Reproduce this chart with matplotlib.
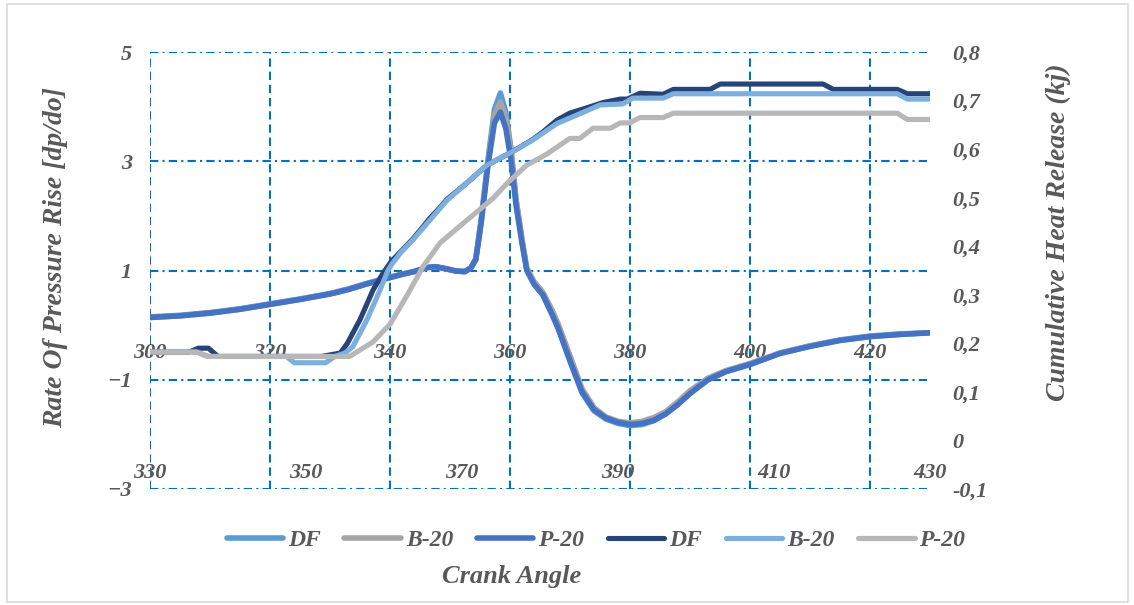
import matplotlib.pyplot as plt
from matplotlib.patches import Rectangle

# rate of pressure rise (primary axes, crank angle 300-430)
ca_rise = [300, 305, 310, 315, 320, 325, 330, 333, 336, 340, 342, 344, 346, 347.5,
           349, 351, 352.5, 353.5, 354.3, 355.2, 356.3, 357.4, 358.4, 359.3, 360.2,
           361.0, 362.0, 362.8, 364.0, 365.5, 367.0, 368.0, 370.0, 372.0, 374.0,
           376.0, 378.0, 380.0, 382.0, 384.0, 386.0, 388.0, 390.0, 393.0, 396.0,
           400.0, 405.0, 410.0, 415.0, 420.0, 425.0, 430.0]
rise_df = [0.15, 0.18, 0.23, 0.30, 0.39, 0.48, 0.58, 0.66, 0.76, 0.88, 0.93, 0.98,
           1.05, 1.07, 1.04, 0.99, 0.98, 1.05, 1.22, 1.95, 3.0, 3.95, 4.25, 3.9,
           3.2, 2.3, 1.55, 1.02, 0.76, 0.55, 0.2, -0.05, -0.66, -1.24, -1.57, -1.72,
           -1.80, -1.84, -1.82, -1.75, -1.62, -1.45, -1.25, -1.0, -0.85, -0.72,
           -0.51, -0.38, -0.27, -0.20, -0.16, -0.14]
rise_b20 = [0.14, 0.17, 0.22, 0.29, 0.38, 0.47, 0.57, 0.65, 0.75, 0.87, 0.93, 0.98,
            1.05, 1.07, 1.04, 0.99, 0.98, 1.05, 1.2, 1.9, 2.95, 3.85, 4.08, 3.8,
            3.15, 2.3, 1.58, 1.05, 0.8, 0.6, 0.28, 0.03, -0.56, -1.16, -1.51,
            -1.68, -1.76, -1.79, -1.76, -1.69, -1.58, -1.40, -1.20, -0.97, -0.83,
            -0.70, -0.51, -0.38, -0.28, -0.21, -0.17, -0.14]
rise_p20 = [0.14, 0.17, 0.22, 0.29, 0.38, 0.47, 0.57, 0.65, 0.75, 0.87, 0.93, 0.98,
            1.05, 1.07, 1.04, 0.99, 0.98, 1.05, 1.2, 1.87, 2.9, 3.7, 3.9, 3.6,
            3.0, 2.2, 1.5, 1.0, 0.75, 0.55, 0.2, -0.05, -0.65, -1.22, -1.55, -1.70,
            -1.78, -1.82, -1.80, -1.74, -1.62, -1.45, -1.25, -1.0, -0.85, -0.72,
            -0.52, -0.39, -0.28, -0.21, -0.17, -0.14]

# cumulative heat release (secondary axes, crank angle 330-430)
ca_heat_df = [330, 335, 336.2, 337.5, 338.7, 352, 354.4, 355.3, 356.9, 358.6, 359.9,
              361, 362.1, 363.7, 365.0, 365.9, 367.2, 368.1, 370.6, 373.2, 376.5,
              379.1, 380.5, 382.2, 383.8, 386.0, 388.1, 390.3, 391.2, 392.8, 395.8,
              397.1, 401.8, 403.1, 416.3, 417.6, 425.8, 427.1, 430]
heat_df = [0.182, 0.182, 0.19, 0.19, 0.173, 0.173, 0.18, 0.20, 0.248, 0.31, 0.345,
           0.37, 0.388, 0.415, 0.44, 0.458, 0.48, 0.497, 0.53, 0.567, 0.595, 0.62,
           0.637, 0.66, 0.674, 0.685, 0.696, 0.703, 0.703, 0.715, 0.713, 0.723,
           0.723, 0.734, 0.734, 0.723, 0.723, 0.714, 0.714]

ca_heat_b20 = [330, 336, 337.5, 347.5, 348.5, 352.5, 353.7, 355.0, 356.0, 357.8,
               359.5, 360.5, 361.0, 362.1, 363.7, 365.9, 368.1, 370.6, 373.2, 376.5,
               379.1, 382.2, 384.7, 387.7, 390.6, 391.9, 395.8, 397.1, 425.8, 427.1,
               430]
heat_b20 = [0.182, 0.182, 0.173, 0.173, 0.16, 0.16, 0.173, 0.18, 0.193, 0.248, 0.31,
            0.35, 0.363, 0.386, 0.413, 0.454, 0.495, 0.53, 0.567, 0.595, 0.619,
            0.653, 0.670, 0.691, 0.693, 0.705, 0.705, 0.714, 0.714, 0.703, 0.703]

ca_heat_p20 = [330, 336, 337.3, 355.6, 358.6, 360.8, 363.0, 365.0, 367.2, 369.4,
               371.4, 374.0, 375.8, 378.3, 380.9, 383.8, 385.1, 386.8, 389.0, 390.3,
               391.5, 392.8, 395.8, 397.1, 425.8, 427.1, 430]
heat_p20 = [0.182, 0.182, 0.173, 0.173, 0.203, 0.24, 0.30, 0.358, 0.407, 0.437,
            0.464, 0.499, 0.53, 0.567, 0.59, 0.622, 0.622, 0.643, 0.643, 0.654,
            0.654, 0.665, 0.665, 0.674, 0.674, 0.661, 0.661]

left_ticks = [-3, -1, 1, 3, 5]
right_ticks = [-0.1, 0, 0.1, 0.2, 0.3, 0.4, 0.5, 0.6, 0.7, 0.8]
right_labels = ['-0,1', '0', '0,1', '0,2', '0,3', '0,4', '0,5', '0,6', '0,7', '0,8']
top_angles = [300, 320, 340, 360, 380, 400, 420]
bottom_angles = [330, 350, 370, 390, 410, 430]

plt.rcParams['font.family'] = ['Liberation Serif', 'DejaVu Serif']
plt.rcParams['font.style'] = 'italic'
plt.rcParams['font.weight'] = 'bold'
plt.rcParams['lines.scale_dashes'] = False
txt = '#595959'
grid_c = '#0070C0'

fig = plt.figure(figsize=(11.34, 6.05), dpi=100)
pos = [150 / 1134, 1 - 489 / 605, 780 / 1134, 437 / 605]
ax = fig.add_axes(pos)
ax2 = fig.add_axes(pos, label='secondary')
ax2.patch.set_visible(False)

fig.patches.append(Rectangle((7 / 1134, 3 / 605), 1121 / 1134, 598 / 605,
                             transform=fig.transFigure, fill=False,
                             edgecolor='#D9D9D9', linewidth=1.2))

kw = dict(lw=4.0, solid_capstyle='round', solid_joinstyle='round')
ax.plot(ca_rise, rise_df, color='#5B9BD5', label='DF', **kw)
ax.plot(ca_rise, rise_b20, color='#A5A5A5', label='B-20', **kw)
ax.plot(ca_rise, rise_p20, color='#4472C4', label='P-20', **kw)
ax.set_xlim(300, 430)
ax.set_ylim(-3, 5)
ax.set_xticks(top_angles)
ax.set_yticks(left_ticks)
ax.xaxis.grid(True, color=grid_c, lw=1.5, linestyle=(0, (6, 3.5)))
ax.yaxis.grid(True, color=grid_c, lw=1.5, linestyle=(0, (6, 3, 1.5, 3)))
ax.set_axisbelow(True)
ax.spines['bottom'].set_position(('data', 0))
for s in ax.spines.values():
    s.set_visible(False)
ax.tick_params(axis='x', length=0, pad=13, labelsize=16, labelcolor=txt)
ax.tick_params(axis='y', length=0, pad=13, labelsize=16, labelcolor=txt)

kw2 = dict(lw=3.7, solid_capstyle='round', solid_joinstyle='round')
ax2.plot(ca_heat_df, heat_df, color='#264478', label='DF', **kw2)
ax2.plot(ca_heat_b20, heat_b20, color='#7CAFDD', label='B-20', **kw2)
ax2.plot(ca_heat_p20, heat_p20, color='#B7B7B7', label='P-20', **kw2)
ax2.set_xlim(330, 430)
ax2.set_ylim(-0.1, 0.8)
ax2.set_xticks(bottom_angles)
ax2.set_yticks(right_ticks)
ax2.set_yticklabels(right_labels)
ax2.yaxis.tick_right()
ax2.spines['bottom'].set_position(('data', 0))
for s in ax2.spines.values():
    s.set_visible(False)
ax2.tick_params(axis='x', length=0, pad=16, labelsize=16, labelcolor=txt)
ax2.tick_params(axis='y', length=0, pad=16, labelsize=16, labelcolor=txt)

fig.text(56 / 1134, 1 - 257 / 605, 'Rate Of Pressure Rise [dp/do]', rotation=90,
         ha='center', va='center', fontsize=20, color=txt)
fig.text(1058 / 1134, 1 - 232 / 605, 'Cumulative Heat Release (kj)', rotation=90,
         ha='center', va='center', fontsize=20, color=txt)
fig.text(512 / 1134, 1 - 577 / 605, 'Crank Angle', ha='center', va='center',
         fontsize=19, color=txt)

h1, l1 = ax.get_legend_handles_labels()
h2, l2 = ax2.get_legend_handles_labels()
leg = fig.legend(h1 + h2, l1 + l2, loc='center', bbox_to_anchor=(596 / 1134, 1 - 540 / 605),
                 ncol=6, frameon=False, fontsize=17, handlelength=2.4,
                 handletextpad=0.2, columnspacing=1.0)
for t in leg.get_texts():
    t.set_color(txt)

fig.savefig('out.png', dpi=100)
